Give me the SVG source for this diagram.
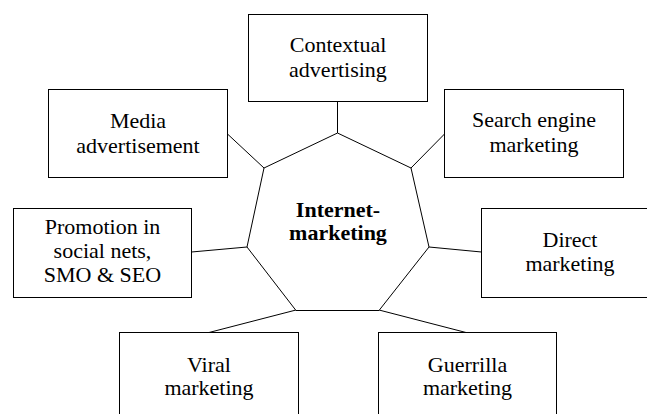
<svg xmlns="http://www.w3.org/2000/svg" width="647" height="414" viewBox="0 0 647 414">
<style>
.box{fill:#fff;stroke:#000;stroke-width:1}
.lbl{font-size:22px;fill:#000;text-anchor:middle}
.ctr{font-weight:bold}
.con{stroke:#000;stroke-width:1;fill:none}
</style>
<rect width="647" height="414" fill="#fff"/>
<g id="connectors">
<line class="con" x1="337.5" y1="133" x2="337.5" y2="101.5"/>
<line class="con" x1="411" y1="168" x2="444.5" y2="134"/>
<line class="con" x1="429" y1="247" x2="481.5" y2="252"/>
<line class="con" x1="379" y1="310" x2="466" y2="332.5"/>
<line class="con" x1="296" y1="310" x2="209" y2="332.5"/>
<line class="con" x1="247" y1="247" x2="191.5" y2="252"/>
<line class="con" x1="264" y1="168" x2="227.5" y2="134"/>
</g>
<g font-family="Liberation Serif, Times New Roman, serif">
<g id="center">
<polygon class="box" points="337.5,133 411,168 429,247 379,310.5 296,310.5 247,247 264,168"/>
<text class="lbl ctr" x="338" y="217">Internet-</text>
<text class="lbl ctr" x="338" y="240">marketing</text>
</g>
<g id="contextual">
<rect class="box" x="248.5" y="14.5" width="179" height="87"/>
<text class="lbl" x="338" y="52">Contextual</text>
<text class="lbl" x="338" y="77">advertising</text>
</g>
<g id="media">
<rect class="box" x="48.5" y="89.5" width="179" height="88"/>
<text class="lbl" x="138" y="128">Media</text>
<text class="lbl" x="138" y="153">advertisement</text>
</g>
<g id="search">
<rect class="box" x="444.5" y="89.5" width="179" height="88"/>
<text class="lbl" x="534" y="127">Search engine</text>
<text class="lbl" x="534" y="152">marketing</text>
</g>
<g id="promotion">
<rect class="box" x="13.5" y="208.5" width="178" height="89"/>
<text class="lbl" x="102.5" y="234">Promotion in</text>
<text class="lbl" x="102.5" y="258">social nets,</text>
<text class="lbl" x="102.5" y="282">SMO &amp; SEO</text>
</g>
<g id="direct">
<rect class="box" x="481.5" y="208.5" width="179" height="89"/>
<text class="lbl" x="570" y="247">Direct</text>
<text class="lbl" x="570" y="271">marketing</text>
</g>
<g id="viral">
<rect class="box" x="119.5" y="332.5" width="179" height="100"/>
<text class="lbl" x="209" y="372">Viral</text>
<text class="lbl" x="209" y="395">marketing</text>
</g>
<g id="guerrilla">
<rect class="box" x="378.5" y="332.5" width="178" height="100"/>
<text class="lbl" x="467.5" y="372">Guerrilla</text>
<text class="lbl" x="467.5" y="395">marketing</text>
</g>
</g>
</svg>
